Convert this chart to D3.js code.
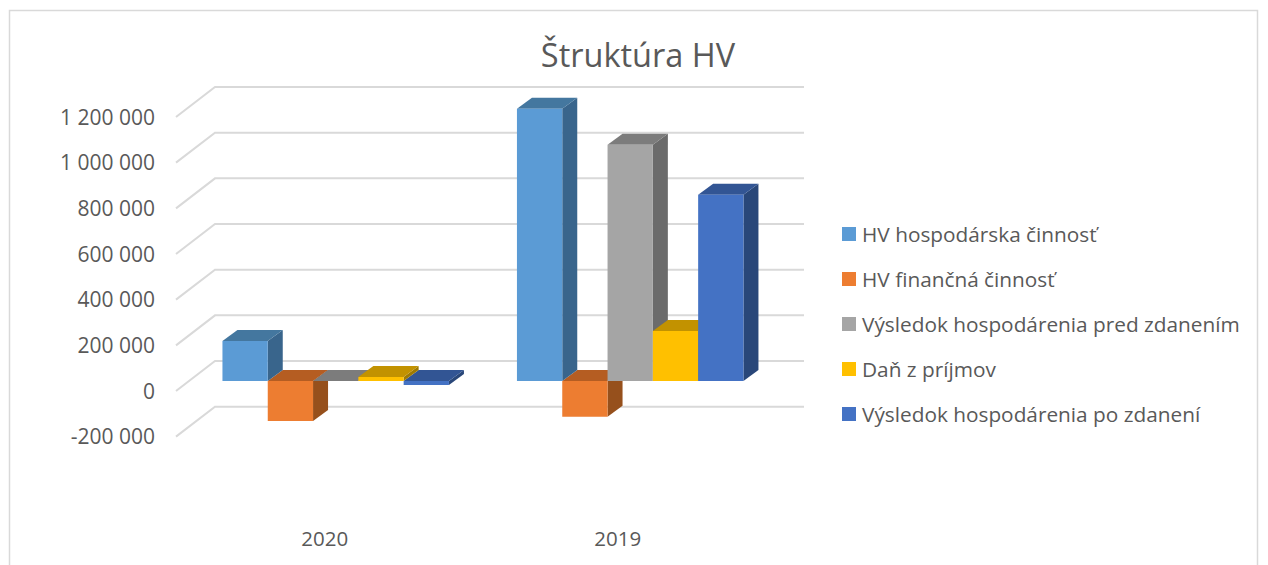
<!DOCTYPE html>
<html><head><meta charset="utf-8">
<script src="https://cdn.jsdelivr.net/npm/d3@7"></script>
<style>html,body{margin:0;background:#fff}svg{display:block}text{font-family:"Open Sans",sans-serif;fill:#595959}</style>
</head><body><div id="c"></div>
<script>
const categories = ["2020", "2019"];
const seriesNames = ["HV hospodárska činnosť","HV finančná činnosť","Výsledok hospodárenia pred zdanením","Daň z príjmov","Výsledok hospodárenia po zdanení"];
const hvHospodarska = [175000, 1192000];
const hvFinancna = [-175000, -157000];
const predZdanenim = [0, 1035000];
const danZPrijmov = [17000, 219000];
const poZdaneni = [-17000, 816000];
const tickValues = [-200000,0,200000,400000,600000,800000,1000000,1200000];
const frontColors = ["#5b9bd5","#ed7d31","#a5a5a5","#ffc000","#4472c4"];
const topColors = ["#44779f","#b55d22","#7c7c7c","#c29200","#325594"];
const sideColors = ["#39658c","#96501c","#6b6b6b","#9f7a00","#294779"];
const seriesValues = [hvHospodarska,hvFinancna,predZdanenim,danZPrijmov,poZdaneni];

const W=1268,H=565;
const svg=d3.select("#c").append("svg").attr("width",W).attr("height",H);
svg.append("rect").attr("x",9.5).attr("y",10.5).attr("width",1248).attr("height",H+20)
  .attr("fill","#fff").attr("stroke","#d9d9d9").attr("stroke-width",1.5);

const y=d3.scaleLinear().domain([0,1200000]).range([391,117]);
const x0=d3.scaleBand().domain(categories).range([176,765]);
const x1=d3.scaleBand().domain(d3.range(5)).range([0,226.5]);
const wall={dx:39,dy:-30}, plane={dx:13,dy:-10}, depth={dx:15,dy:-11};

const grid=svg.append("g").attr("fill","none").attr("stroke","#d9d9d9").attr("stroke-width",2);
tickValues.forEach(t=>{
  const p=d3.path();
  p.moveTo(176,y(t)); p.lineTo(176+wall.dx,y(t)+wall.dy); p.lineTo(765+wall.dx,y(t)+wall.dy);
  grid.append("path").attr("d",p.toString());
});

const fmt=v=>(v<0?"-":"")+d3.format(",")(Math.abs(v)).replace(/,/g," ");
svg.append("g").selectAll("text").data(tickValues).join("text")
  .attr("x",155).attr("y",d=>y(d)-0.5).attr("text-anchor","end").attr("dominant-baseline","central")
  .attr("font-size",21).text(fmt);

svg.append("g").selectAll("text").data(categories).join("text")
  .attr("x",d=>x0(d)+x0.bandwidth()/2+(d==="2020"?1.5:0)).attr("y",538)
  .attr("text-anchor","middle").attr("dominant-baseline","central").attr("font-size",20.5).text(d=>d);

const bars=[];
categories.forEach((c,ci)=>seriesValues.forEach((vals,si)=>bars.push({c,si,v:vals[ci]})));
bars.sort((a,b)=>(a.v<0?0:1)-(b.v<0?0:1));
const g=svg.append("g");
const poly=(pts,fill)=>g.append("polygon").attr("points",pts.map(p=>p.join(",")).join(" ")).attr("fill",fill);
bars.forEach(b=>{
  const cx=x0(b.c)+x0.bandwidth()/2+plane.dx;
  const xl=cx-113.8+x1(b.si), xr=xl+x1.bandwidth();
  const y0=y(0)+plane.dy, yv=y(b.v)+plane.dy;
  const yt=Math.min(y0,yv), yb=Math.max(y0,yv);
  const d=depth;
  poly([[xr,yt],[xr+d.dx,yt+d.dy],[xr+d.dx,yb+d.dy],[xr,yb]],sideColors[b.si]);
  poly([[xl,yt],[xr,yt],[xr+d.dx,yt+d.dy],[xl+d.dx,yt+d.dy]],topColors[b.si]);
  poly([[xl,yt],[xr,yt],[xr,yb],[xl,yb]],frontColors[b.si]);
});

svg.append("text").attr("x",638).attr("y",54).attr("text-anchor","middle").attr("dominant-baseline","central")
  .attr("font-size",32.5).text("Štruktúra HV");

const ly=d3.scalePoint().domain(d3.range(5)).range([234,414]);
const lg=svg.append("g").selectAll("g").data(seriesNames).join("g")
  .attr("transform",(d,i)=>`translate(842,${ly(i)})`);
lg.append("rect").attr("x",0).attr("y",-7).attr("width",14).attr("height",14).attr("fill",(d,i)=>frontColors[i]);
lg.append("text").attr("x",20).attr("y",-0.5).attr("dominant-baseline","central").attr("font-size",20.8).text(d=>d);
</script></body></html>
